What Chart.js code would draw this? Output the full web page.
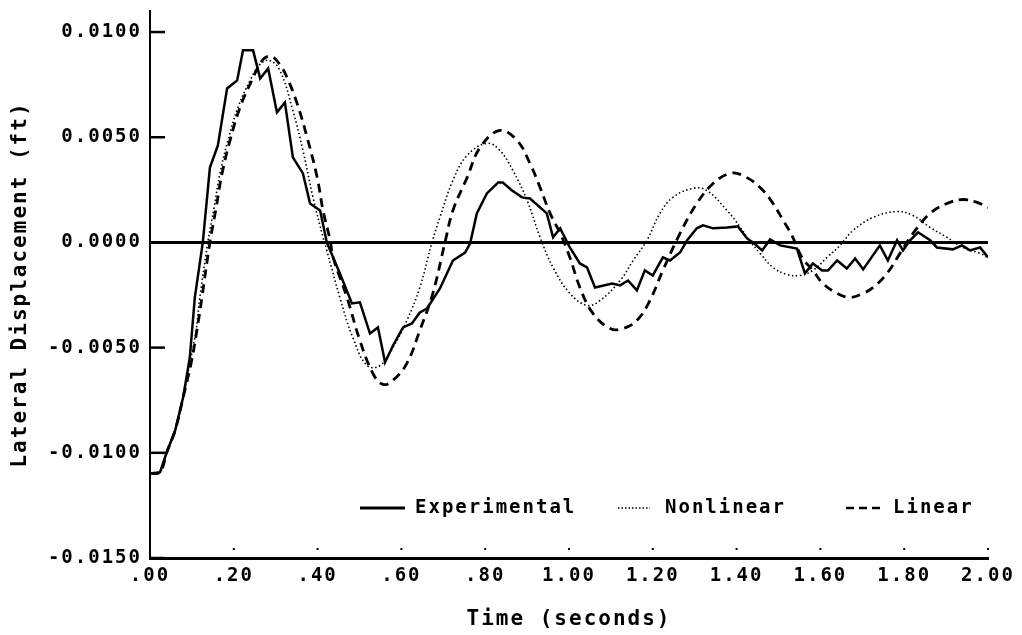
<!DOCTYPE html>
<html><head><meta charset="utf-8">
<script src="https://cdn.jsdelivr.net/npm/chart.js@4"></script>
<style>html,body{margin:0;padding:0;background:#fff}</style>
</head><body>
<canvas id="c" width="1022" height="635" style="width:1022px;height:635px;display:block"></canvas>
<script>
// ---- data (time in seconds, displacement in ft) ----
const seriesNames = ['Experimental', 'Nonlinear', 'Linear'];

const expTime = [0,0.024,0.040,0.060,0.079,0.095,0.107,0.126,0.143,0.162,0.184,0.208,0.222,0.246,0.263,0.282,0.303,0.322,0.341,0.365,0.382,0.406,0.422,0.453,0.482,0.501,0.525,0.544,0.561,0.580,0.604,0.625,0.644,0.661,0.692,0.723,0.752,0.764,0.780,0.804,0.831,0.842,0.864,0.888,0.907,0.947,0.962,0.979,1.002,1.026,1.043,1.062,1.103,1.122,1.141,1.162,1.181,1.200,1.224,1.241,1.265,1.282,1.305,1.320,1.344,1.377,1.403,1.425,1.439,1.461,1.480,1.504,1.544,1.563,1.582,1.604,1.618,1.640,1.663,1.683,1.702,1.742,1.761,1.783,1.797,1.814,1.833,1.862,1.878,1.916,1.938,1.957,1.981,2.000];
const expValues = [-0.01098,-0.01092,-0.00997,-0.00894,-0.00737,-0.00547,-0.00261,0.00000,0.00356,0.00461,0.00732,0.00770,0.00913,0.00913,0.00779,0.00827,0.00618,0.00665,0.00404,0.00328,0.00185,0.00152,0.00000,-0.00147,-0.00290,-0.00285,-0.00433,-0.00404,-0.00570,-0.00490,-0.00404,-0.00385,-0.00333,-0.00314,-0.00219,-0.00086,-0.00048,-0.00005,0.00138,0.00233,0.00285,0.00285,0.00247,0.00214,0.00209,0.00138,0.00024,0.00067,-0.00024,-0.00100,-0.00119,-0.00214,-0.00195,-0.00204,-0.00181,-0.00228,-0.00133,-0.00157,-0.00071,-0.00086,-0.00048,0.00010,0.00067,0.00081,0.00067,0.00071,0.00076,0.00019,0.00000,-0.00038,0.00014,-0.00014,-0.00029,-0.00147,-0.00100,-0.00133,-0.00133,-0.00086,-0.00124,-0.00076,-0.00128,-0.00014,-0.00086,0.00010,-0.00038,0.00010,0.00048,0.00010,-0.00024,-0.00033,-0.00014,-0.00038,-0.00024,-0.00071];

const nonlinTime = [0,0.024,0.040,0.060,0.079,0.095,0.110,0.119,0.138,0.153,0.167,0.186,0.210,0.239,0.262,0.285,0.310,0.341,0.365,0.389,0.413,0.422,0.453,0.484,0.518,0.549,0.580,0.613,0.644,0.673,0.692,0.723,0.757,0.804,0.835,0.866,0.900,0.931,0.962,1.002,1.043,1.074,1.122,1.153,1.186,1.217,1.248,1.296,1.329,1.377,1.408,1.425,1.456,1.487,1.520,1.551,1.582,1.616,1.647,1.678,1.726,1.783,1.821,1.862,1.902,1.940,1.981,2.000];
const nonlinValues = [-0.01098,-0.01092,-0.00997,-0.00894,-0.00737,-0.00575,-0.00418,-0.00261,0.00000,0.00166,0.00328,0.00485,0.00642,0.00770,0.00845,0.00865,0.00817,0.00627,0.00437,0.00214,0.00024,-0.00038,-0.00261,-0.00452,-0.00585,-0.00585,-0.00499,-0.00371,-0.00214,0.00000,0.00119,0.00295,0.00414,0.00471,0.00437,0.00342,0.00200,0.00024,-0.00119,-0.00242,-0.00299,-0.00276,-0.00181,-0.00086,0.00010,0.00138,0.00214,0.00257,0.00247,0.00152,0.00075,0.00024,-0.00052,-0.00119,-0.00152,-0.00157,-0.00133,-0.00071,-0.00014,0.00057,0.00119,0.00147,0.00128,0.00071,0.00024,-0.00024,-0.00052,-0.00071];

const linTime = [0,0.024,0.040,0.060,0.079,0.098,0.112,0.124,0.143,0.158,0.172,0.191,0.215,0.243,0.270,0.290,0.310,0.327,0.351,0.375,0.399,0.413,0.430,0.437,0.470,0.501,0.532,0.556,0.580,0.613,0.644,0.675,0.704,0.723,0.757,0.788,0.835,0.876,0.907,0.931,0.955,0.979,1.002,1.026,1.057,1.098,1.129,1.162,1.193,1.224,1.265,1.305,1.344,1.384,1.415,1.456,1.487,1.511,1.532,1.556,1.582,1.606,1.640,1.671,1.702,1.726,1.759,1.790,1.821,1.862,1.902,1.940,1.974,2.000];
const linValues = [-0.01098,-0.01092,-0.00997,-0.00894,-0.00737,-0.00575,-0.00418,-0.00261,0.00000,0.00166,0.00328,0.00485,0.00642,0.00770,0.00870,0.00884,0.00845,0.00784,0.00661,0.00499,0.00309,0.00152,0.00010,-0.00071,-0.00261,-0.00466,-0.00623,-0.00675,-0.00655,-0.00575,-0.00418,-0.00242,0.00000,0.00152,0.00309,0.00452,0.00532,0.00485,0.00375,0.00261,0.00138,0.00043,-0.00071,-0.00214,-0.00337,-0.00409,-0.00409,-0.00371,-0.00276,-0.00133,0.00043,0.00185,0.00280,0.00328,0.00318,0.00261,0.00185,0.00105,0.00033,-0.00071,-0.00133,-0.00195,-0.00242,-0.00261,-0.00242,-0.00214,-0.00147,-0.00052,0.00043,0.00138,0.00185,0.00204,0.00190,0.00166];

const xTickValues = [0,0.2,0.4,0.6,0.8,1.0,1.2,1.4,1.6,1.8,2.0];
const xTickLabels = ['.00','.20','.40','.60','.80','1.00','1.20','1.40','1.60','1.80','2.00'];
const yTickValues = [-0.015,-0.010,-0.005,0,0.005,0.010];
const yTickLabels = ['-0.0150','-0.0100','-0.0050','0.0000','0.0050','0.0100'];

const xTitle = 'Time (seconds)';
const yTitle = 'Lateral Displacement (ft)';

// ---- helpers ----
const pts = (t, v) => t.map((x, i) => ({x: x, y: v[i]}));
const FONT = 'DejaVu Sans Mono';

const spacingPlugin = {
  id: 'spacing',
  beforeUpdate(chart) { chart.ctx.letterSpacing = '2px'; },
  beforeDraw(chart) { chart.ctx.letterSpacing = '2px'; }
};

const innerTicks = {
  id: 'innerTicks',
  afterDatasetsDraw(chart) {
    const ctx = chart.ctx, xs = chart.scales.x, ys = chart.scales.y;
    ctx.save();
    ctx.strokeStyle = '#000';
    ctx.fillStyle = '#000';
    ctx.lineWidth = 2.5;
    yTickValues.forEach(v => {
      const py = ys.getPixelForValue(v);
      ctx.beginPath(); ctx.moveTo(xs.left, py); ctx.lineTo(xs.left + 15, py); ctx.stroke();
    });
    xTickValues.slice(1).forEach(v => {
      const px = xs.getPixelForValue(v);
      ctx.fillRect(px - 1, ys.bottom - 10, 2, 2);
    });
    ctx.restore();
  }
};

const legendPlugin = {
  id: 'inlineLegend',
  afterDraw(chart) {
    const ctx = chart.ctx;
    const y = 508;
    const items = [
      {x0: 360, x1: 405, tx: 415, dash: [], w: 3},
      {x0: 618, x1: 650, tx: 665, dash: [1.5, 2], w: 1.6},
      {x0: 846, x1: 882, tx: 893, dash: [8, 5], w: 2.6}
    ];
    ctx.save();
    ctx.letterSpacing = '2px';
    ctx.font = 'bold 19px "' + FONT + '"';
    ctx.fillStyle = '#000';
    ctx.strokeStyle = '#000';
    ctx.textBaseline = 'middle';
    ctx.textAlign = 'left';
    items.forEach((it, i) => {
      ctx.setLineDash(it.dash);
      ctx.lineWidth = it.w;
      ctx.beginPath(); ctx.moveTo(it.x0, y); ctx.lineTo(it.x1, y); ctx.stroke();
      ctx.setLineDash([]);
      ctx.fillText(seriesNames[i], it.tx, y);
    });
    ctx.restore();
  }
};

new Chart(document.getElementById('c'), {
  type: 'line',
  data: {
    datasets: [
      {label: seriesNames[0], data: pts(expTime, expValues), borderColor: '#000', borderWidth: 2.5, pointRadius: 0, tension: 0, fill: false},
      {label: seriesNames[1], data: pts(nonlinTime, nonlinValues), borderColor: '#000', borderWidth: 1.6, borderDash: [1.5, 2.5], pointRadius: 0, tension: 0.4, fill: false},
      {label: seriesNames[2], data: pts(linTime, linValues), borderColor: '#000', borderWidth: 2.8, borderDash: [9, 6], pointRadius: 0, tension: 0.4, fill: false}
    ]
  },
  options: {
    responsive: false,
    animation: false,
    devicePixelRatio: 1,
    layout: {padding: {left: 0, right: 34, top: 11, bottom: 0}},
    plugins: {legend: {display: false}, tooltip: {enabled: false}},
    scales: {
      x: {
        type: 'linear', min: 0, max: 2,
        afterBuildTicks: s => { s.ticks = xTickValues.map(v => ({value: v})); },
        afterFit: s => { s.height = 77; },
        ticks: {
          autoSkip: false, maxRotation: 0, padding: 7, color: '#000',
          font: {family: FONT, size: 19, weight: 'bold'},
          callback: (v, i) => xTickLabels[i]
        },
        grid: {display: false, drawTicks: false},
        border: {display: true, color: '#000', width: 3},
        title: {display: true, text: xTitle, color: '#000', font: {family: FONT, size: 21, weight: 'bold'}, padding: {top: 0, bottom: 3}}
      },
      y: {
        type: 'linear', min: -0.015, max: 0.011,
        afterBuildTicks: s => { s.ticks = yTickValues.map(v => ({value: v})); },
        afterFit: s => { s.width = 150; s.paddingTop = 0; s.paddingBottom = 0; },
        ticks: {
          padding: 8, color: '#000',
          font: {family: FONT, size: 19, weight: 'bold', lineHeight: 1},
          callback: (v, i) => yTickLabels[i]
        },
        grid: {
          drawTicks: false,
          color: c => (c.tick && c.tick.value === 0) ? '#000' : 'rgba(0,0,0,0)',
          lineWidth: c => (c.tick && c.tick.value === 0) ? 3 : 0
        },
        border: {display: true, color: '#000', width: 2},
        title: {display: true, text: yTitle, color: '#000', font: {family: FONT, size: 21, weight: 'bold'}, padding: {top: 8, bottom: 0}}
      }
    }
  },
  plugins: [spacingPlugin, innerTicks, legendPlugin]
});
</script>
</body></html>
